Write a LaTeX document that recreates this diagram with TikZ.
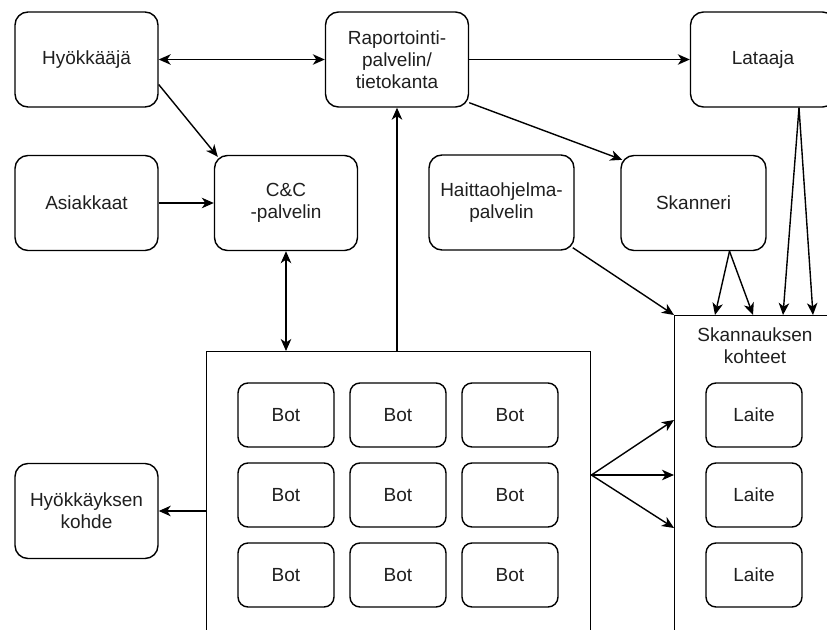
\documentclass[tikz,border=0pt]{standalone}
\usepackage{fontspec}
\setmainfont{Liberation Sans}
\usetikzlibrary{arrows.meta}
\begin{document}
\begin{tikzpicture}[x=1pt,y=-1pt,
  every node/.style={font=\fontsize{19}{22}\selectfont, text=black!88},
  box/.style={draw, line width=1.4pt, rounded corners=13pt, minimum width=143pt, minimum height=95pt, align=center, inner sep=2pt},
  small/.style={draw, line width=1.4pt, rounded corners=10pt, minimum width=96pt, minimum height=64pt},
  cont/.style={draw, line width=1.4pt, inner sep=0pt},
  tip/.tip={Stealth[length=12pt,width=10.5pt,inset=3.5pt]},
  arr/.style={line width=1.4pt, -tip},
  darr/.style={line width=1.4pt, tip-tip}]
\useasboundingbox (0,0) rectangle (827,629);
\clip (0,0) rectangle (827,629);
\node[box] (hy) at (86.5,59.5) {Hyökkääjä};
\node[box] (rap) at (397,59.5) {Raportointi-\\palvelin/\\tietokanta};
\node[box, minimum width=145pt] (lat) at (763,59.5) {Lataaja};
\node[box] (as) at (86.5,203) {Asiakkaat};
\node[box] (cc) at (286,203) {C\&C\\-palvelin};
\node[box, minimum width=145pt] (ha) at (501.5,202.5) {Haittaohjelma-\\palvelin};
\node[box, minimum width=145pt] (sk) at (693.5,203) {Skanneri};
\node[box] (hk) at (86.5,511) {Hyökkäyksen\\kohde};
\node[cont, minimum width=384pt, minimum height=300pt, anchor=north west] (bots) at (206,351) {};
\node[cont, minimum width=162pt, minimum height=340pt, anchor=north west] (sc) at (674,315) {};
\node[align=center] (sct) at (755,345.5) {Skannauksen\\kohteet};
\foreach \c/\x in {1/286,2/398,3/510}
  \foreach \r/\y in {1/415,2/495,3/575}
    \node[small] (b\r\c) at (\x,\y) {Bot};
\foreach \r/\y in {1/415,2/495,3/575}
  \node[small] (l\r) at (754,\y) {Laite};
\draw[darr] (hy.east) -- (rap.west);
\draw[arr] (rap.east) -- (lat.west);
\draw[arr] ([yshift=-25pt]hy.east) -- ([xshift=4pt,yshift=-2pt]cc.north west);
\draw[arr] (as.east) -- (cc.west);
\draw[darr] (cc.south) -- (cc.south |- bots.north);
\draw[arr] (rap.south |- bots.north) -- (rap.south);
\draw[arr] ([yshift=5pt]rap.south east) -- ([xshift=2pt,yshift=-5pt]sk.north west);
\draw[arr] ([xshift=-2pt,yshift=3pt]ha.south east) -- (sc.north west);
\draw[arr] ([xshift=36pt]sk.south) -- ([xshift=41pt]sc.north west);
\draw[arr] ([xshift=36pt]sk.south) -- ([xshift=79pt]sc.north west);
\draw[arr] ([xshift=36pt]lat.south) -- ([xshift=109pt]sc.north west);
\draw[arr] ([xshift=36pt]lat.south) -- ([xshift=139pt]sc.north west);
\coordinate (bo) at ([yshift=-124pt]bots.north east);
\draw[arr] (bo) -- ([yshift=-105pt]sc.north west);
\draw[arr] (bo) -- ([yshift=-160pt]sc.north west);
\draw[arr] (bo) -- ([yshift=-213pt]sc.north west);
\draw[arr] (bots.west |- hk.east) -- (hk.east);
\end{tikzpicture}
\end{document}
